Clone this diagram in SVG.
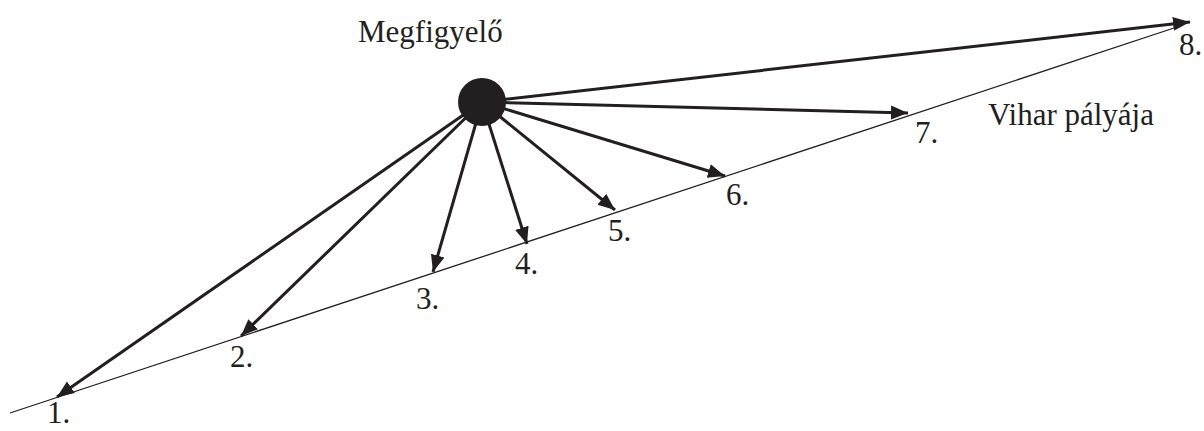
<svg xmlns="http://www.w3.org/2000/svg" width="1204" height="431" viewBox="0 0 1204 431">
<style>
.lbl{font-family:"Liberation Serif","Times New Roman",serif;font-size:31px;fill:#231f20}
.arr{stroke:#231f20;stroke-width:3;fill:none;marker-end:url(#ah)}
.track{stroke:#231f20;stroke-width:1.3;fill:none}
</style>
<defs>
<marker id="ah" markerUnits="userSpaceOnUse" markerWidth="20" markerHeight="16" refX="17" refY="7" orient="auto" viewBox="0 0 20 14">
<path d="M0,0 L17,7 L0,14 z" fill="#231f20"/>
</marker>
</defs>
<g id="track">
<line class="track" x1="10" y1="413" x2="1180" y2="26"/>
<text class="lbl" x="988" y="125">Vihar pályája</text>
</g>
<g id="connectors">
<line class="arr" x1="482" y1="102" x2="57" y2="397"/>
<line class="arr" x1="482" y1="102" x2="241" y2="336"/>
<line class="arr" x1="482" y1="102" x2="433" y2="272"/>
<line class="arr" x1="482" y1="102" x2="527" y2="244"/>
<line class="arr" x1="482" y1="102" x2="615" y2="210"/>
<line class="arr" x1="482" y1="102" x2="725" y2="176"/>
<line class="arr" x1="482" y1="102" x2="908" y2="113"/>
<line class="arr" x1="482" y1="102" x2="1190" y2="22"/>
</g>
<g id="observer">
<circle cx="482" cy="102" r="24" fill="#231f20"/>
<text class="lbl" x="358" y="42">Megfigyelő</text>
</g>
<g id="p1"><text class="lbl" x="47" y="423">1.</text></g>
<g id="p2"><text class="lbl" x="230" y="367">2.</text></g>
<g id="p3"><text class="lbl" x="416" y="309">3.</text></g>
<g id="p4"><text class="lbl" x="515" y="274">4.</text></g>
<g id="p5"><text class="lbl" x="608" y="241">5.</text></g>
<g id="p6"><text class="lbl" x="726" y="205">6.</text></g>
<g id="p7"><text class="lbl" x="915" y="143">7.</text></g>
<g id="p8"><text class="lbl" x="1179" y="55">8.</text></g>
</svg>
